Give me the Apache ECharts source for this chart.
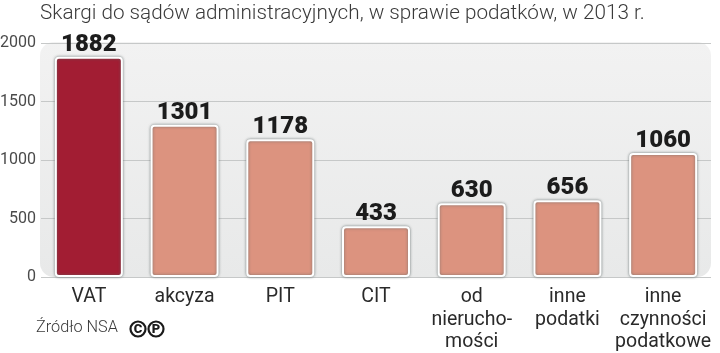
<!DOCTYPE html>
<html>
<head>
<meta charset="utf-8">
<script src="https://cdn.jsdelivr.net/npm/echarts@6/dist/echarts.min.js"></script>
<style>
  html, body { margin: 0; padding: 0; background: #fff; }
  #chart { width: 720px; height: 353px; }
</style>
</head>
<body>
<div id="chart"></div>
<script>
const categories = ['VAT', 'akcyza', 'PIT', 'CIT', 'od\nnierucho-\nmości', 'inne\npodatki', 'inne\nczynności\npodatkowe'];
const values = [1882, 1301, 1178, 433, 630, 656, 1060];
const barColors = ['#a21d33', '#dc937f', '#dc937f', '#dc937f', '#dc937f', '#dc937f', '#dc937f'];
const yTicks = [0, 500, 1000, 1500, 2000];

const chart = echarts.init(document.getElementById('chart'), null, { renderer: 'canvas' });

chart.setOption({
  animation: false,
  backgroundColor: '#fff',
  title: {
    text: 'Skargi do sądów administracyjnych, w sprawie podatków, w 2013 r.',
    left: 40,
    top: 3,
    padding: 0,
    textStyle: { fontFamily: 'Roboto', fontWeight: 300, fontSize: 20.7, color: '#3a3a3a' }
  },
  // labels run past the grid on purpose, so no automatic shrinking
  grid: { left: 41, right: 9, top: 43, bottom: 76, outerBoundsMode: 'none' },
  // rounded panel behind the plot
  graphic: [
    {
      type: 'rect',
      z: -1,
      shape: { x: 40, y: 42, width: 671, height: 235, r: 14 },
      style: {
        fill: new echarts.graphic.LinearGradient(0, 0, 0, 1, [
          { offset: 0, color: '#f2f2f2' },
          { offset: 1, color: '#e8e9e9' }
        ])
      }
    },
    {
      type: 'text',
      left: 36,
      top: 320,
      style: { text: 'Źródło NSA', fontFamily: 'Roboto', fontWeight: 300, fontSize: 16.3, fill: '#3a3a3a' }
    },
    {
      type: 'group',
      left: 128,
      top: 319,
      children: [
        { type: 'circle', shape: { cx: 9, cy: 9, r: 7.5 }, style: { fill: 'none', stroke: '#1a1a1a', lineWidth: 2.2 } },
        { type: 'text', style: { x: 9, y: 9.5, text: 'C', align: 'center', verticalAlign: 'middle', fontFamily: 'Roboto', fontWeight: 900, fontSize: 13, fill: '#1a1a1a' } },
        { type: 'circle', shape: { cx: 27, cy: 9, r: 7.5 }, style: { fill: 'none', stroke: '#1a1a1a', lineWidth: 2.2 } },
        { type: 'text', style: { x: 27, y: 9.5, text: 'P', align: 'center', verticalAlign: 'middle', fontFamily: 'Roboto', fontWeight: 900, fontSize: 13, fill: '#1a1a1a' } }
      ]
    }
  ],
  xAxis: {
    type: 'category',
    data: categories,
    axisLine: { show: false },
    axisTick: { show: false },
    axisLabel: {
      interval: 0,
      margin: 9,
      color: '#2a2a2a',
      fontFamily: 'Roboto',
      fontSize: 19.5,
      lineHeight: 22.5
    }
  },
  yAxis: {
    type: 'value',
    min: yTicks[0],
    max: yTicks[yTicks.length - 1],
    interval: yTicks[1],
    axisLine: { show: false },
    axisTick: { show: false },
    axisLabel: {
      margin: 5,
      color: '#4a4a4a',
      fontFamily: 'Roboto',
      fontSize: 16,
      formatter: v => String(v)
    },
    splitLine: { lineStyle: { color: '#c6c8c8', width: 1 } }
  },
  series: [
    {
      type: 'bar',
      data: values.map((v, i) => ({ value: v, itemStyle: { color: barColors[i] } })),
      barWidth: 68,
      itemStyle: {
        borderColor: '#fff',
        borderWidth: 2,
        borderRadius: 3,
        shadowColor: 'rgba(90,100,100,0.75)',
        shadowBlur: 3
      },
      label: {
        show: true,
        position: 'top',
        distance: 0,
        color: '#1c1c1c',
        fontFamily: 'Roboto',
        fontWeight: 900,
        fontSize: 24
      }
    }
  ]
});
</script>
</body>
</html>
